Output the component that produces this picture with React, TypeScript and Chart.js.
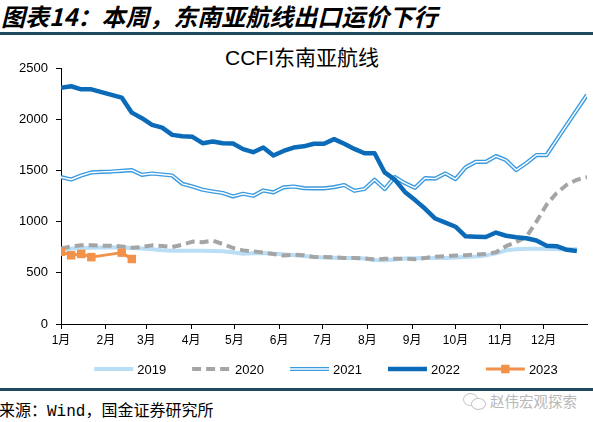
import React, { useEffect, useRef } from "react";
import { Chart, registerables } from "chart.js";

Chart.register(...registerables);

const monthLabels = ["1月", "2月", "3月", "4月", "5月", "6月", "7月", "8月", "9月", "10月", "11月", "12月"];
const monthStartDays = [0, 31, 59, 90, 120, 151, 181, 212, 243, 273, 304, 334];
const yTickValues = [0, 500, 1000, 1500, 2000, 2500];
const seriesNames = ["2019", "2020", "2021", "2022", "2023"];

const series2019 = [725, 735, 743, 745, 748, 750, 748, 743, 738, 730, 720, 716, 716, 716, 716, 714, 710, 700, 685, 690, 694, 686, 680, 672, 665, 655, 650, 648, 645, 645, 640, 625, 622, 630, 640, 642, 645, 645, 645, 650, 655, 660, 670, 690, 720, 730, 735, 736, 736, 730, 728, 732];
const series2020 = [736, 758, 768, 768, 765, 765, 758, 745, 752, 768, 762, 752, 775, 805, 799, 814, 781, 743, 719, 710, 697, 684, 668, 677, 671, 655, 655, 650, 645, 645, 640, 629, 638, 638, 638, 632, 645, 657, 661, 668, 672, 677, 684, 700, 760, 800, 850, 1000, 1165, 1279, 1360, 1408, 1435];
const series2021 = [1435, 1411, 1450, 1480, 1486, 1489, 1496, 1503, 1457, 1470, 1460, 1450, 1369, 1343, 1311, 1294, 1279, 1246, 1272, 1252, 1304, 1285, 1334, 1343, 1327, 1324, 1324, 1337, 1357, 1301, 1318, 1408, 1318, 1435, 1375, 1330, 1425, 1420, 1470, 1415, 1530, 1584, 1584, 1640, 1600, 1503, 1571, 1650, 1650, 1798, 1945, 2091, 2237];
const series2022 = [2308, 2322, 2292, 2292, 2265, 2237, 2211, 2064, 2010, 1945, 1918, 1847, 1834, 1828, 1766, 1782, 1766, 1762, 1708, 1678, 1723, 1646, 1690, 1723, 1735, 1760, 1760, 1805, 1760, 1710, 1668, 1668, 1480, 1410, 1290, 1210, 1125, 1030, 990, 950, 856, 852, 850, 893, 862, 848, 838, 815, 765, 760, 725, 712];
const series2023 = [705, 671, 684, 653, null, null, 697, 635];

const DAYS_PER_WEEK = 7;
const toPoints = (arr: (number | null)[]) => arr.map((v, i) => ({ x: i * DAYS_PER_WEEK, y: v }));

const CANVAS_TOP = 36;
const CANVAS_W = 593;
const CANVAS_H = 352;
const LEGEND_Y = 333;

const doubleLinePlugin = {
  id: "doubleLine",
  afterDatasetDraw(chart: any, args: any) {
    const ds = chart.data.datasets[args.index];
    if (!ds.doubleLine) return;
    const pts = args.meta.data;
    const ctx = chart.ctx;
    ctx.save();
    ctx.beginPath();
    pts.forEach((p: any, i: number) => {
      if (i === 0) ctx.moveTo(p.x, p.y);
      else ctx.lineTo(p.x, p.y);
    });
    ctx.strokeStyle = "#ffffff";
    ctx.lineWidth = 1.4;
    ctx.lineJoin = "round";
    ctx.stroke();
    ctx.restore();
  },
};

const customLegendPlugin = {
  id: "customLegend",
  afterDraw(chart: any) {
    const ctx = chart.ctx;
    const area = chart.chartArea;
    const sample = 39;
    const gap = 4;
    const spacing = 26;
    ctx.save();
    ctx.font = "13px 'Liberation Sans', Arial, sans-serif";
    const items = chart.data.datasets.map((ds: any) => ({ ds, w: ctx.measureText(ds.label).width }));
    const total = items.reduce((s: number, it: any) => s + sample + gap + it.w, 0) + spacing * (items.length - 1);
    let x = (area.left + area.right) / 2 - total / 2 + 2;
    const y = LEGEND_Y;
    items.forEach((it: any) => {
      const ds = it.ds;
      ctx.beginPath();
      ctx.setLineDash(ds.borderDash || []);
      ctx.lineCap = "butt";
      ctx.strokeStyle = ds.borderColor;
      ctx.lineWidth = ds.borderWidth;
      ctx.moveTo(x, y);
      ctx.lineTo(x + sample, y);
      ctx.stroke();
      ctx.setLineDash([]);
      if (ds.doubleLine) {
        ctx.beginPath();
        ctx.strokeStyle = "#ffffff";
        ctx.lineWidth = 1.4;
        ctx.moveTo(x, y);
        ctx.lineTo(x + sample, y);
        ctx.stroke();
      }
      if (ds.pointStyle === "rect") {
        ctx.fillStyle = ds.borderColor;
        const s = 8.5;
        ctx.fillRect(x + sample / 2 - s / 2, y - s / 2, s, s);
      }
      ctx.fillStyle = "#000000";
      ctx.textBaseline = "middle";
      ctx.textAlign = "left";
      ctx.fillText(ds.label, x + sample + gap, y + 1);
      x += sample + gap + it.w + spacing;
    });
    ctx.restore();
  },
};

export default function App() {
  const canvasRef = useRef<HTMLCanvasElement | null>(null);

  useEffect(() => {
    if (!canvasRef.current) return;
    const chart = new Chart(canvasRef.current, {
      type: "line",
      data: {
        datasets: [
          {
            label: seriesNames[0],
            data: toPoints(series2019),
            borderColor: "#b9def5",
            borderWidth: 4,
            pointRadius: 0,
            order: 5,
          },
          {
            label: seriesNames[1],
            data: toPoints(series2020),
            borderColor: "#a5a5a5",
            borderWidth: 4,
            borderDash: [9, 5],
            pointRadius: 0,
            order: 4,
          },
          {
            label: seriesNames[2],
            data: toPoints(series2021),
            borderColor: "#3b9be0",
            borderWidth: 4.2,
            pointRadius: 0,
            doubleLine: true,
            order: 3,
          } as any,
          {
            label: seriesNames[3],
            data: toPoints(series2022),
            borderColor: "#0b6bb8",
            borderWidth: 4.5,
            pointRadius: 0,
            order: 2,
          },
          {
            label: seriesNames[4],
            data: toPoints(series2023),
            borderColor: "#f2924a",
            backgroundColor: "#f2924a",
            borderWidth: 3,
            pointStyle: "rect",
            pointRadius: 6,
            pointBackgroundColor: "#f2924a",
            pointBorderWidth: 0,
            spanGaps: true,
            order: 1,
          },
        ],
      },
      options: {
        responsive: false,
        animation: false,
        events: [],
        layout: { padding: { top: 32, right: 6, bottom: 40, left: 0 } },
        elements: { line: { tension: 0, borderJoinStyle: "round" as any } },
        plugins: {
          legend: { display: false },
          title: { display: false },
          tooltip: { enabled: false },
        },
        scales: {
          x: {
            type: "linear",
            min: 0,
            max: 364,
            afterFit: (scale: any) => {
              scale.height = 24;
            },
            afterBuildTicks: (scale: any) => {
              scale.ticks = monthStartDays.map((d) => ({ value: d }));
            },
            ticks: {
              autoSkip: false,
              maxRotation: 0,
              padding: 4,
              color: "#000000",
              font: { family: "'Liberation Sans', 'Noto Sans CJK SC', sans-serif", size: 12 },
              callback: (_v: any, i: number) => monthLabels[i],
            },
            grid: { drawOnChartArea: false, drawTicks: true, tickLength: 5, tickColor: "#000000" },
            border: { display: true, color: "#000000", width: 1 },
          },
          y: {
            type: "linear",
            min: 0,
            max: 2500,
            afterFit: (scale: any) => {
              scale.width = 61;
            },
            afterBuildTicks: (scale: any) => {
              scale.ticks = yTickValues.map((v) => ({ value: v }));
            },
            ticks: {
              padding: 8,
              color: "#000000",
              font: { family: "'Liberation Sans', Arial, sans-serif", size: 13 },
              callback: (v: any) => String(v),
            },
            grid: { drawOnChartArea: false, drawTicks: true, tickLength: 5, tickColor: "#000000" },
            border: { display: true, color: "#000000", width: 1 },
          },
        },
      },
      plugins: [doubleLinePlugin, customLegendPlugin],
    });
    return () => chart.destroy();
  }, []);

  return (
    <div
      style={{
        position: "absolute",
        left: 0,
        top: 0,
        width: 593,
        height: 422,
        background: "#ffffff",
        overflow: "hidden",
        fontFamily: "'Noto Sans CJK SC', sans-serif",
      }}
    >
      <div
        style={{
          position: "absolute",
          left: 1,
          top: 1,
          fontSize: 24,
          fontWeight: 700,
          fontStyle: "italic",
          lineHeight: "29px",
          color: "#000",
          whiteSpace: "nowrap",
        }}
      >
        图表14：本周，东南亚航线出口运价下行
      </div>
      <div style={{ position: "absolute", left: 0, top: 32, width: 593, height: 2.5, background: "#1e4a60" }} />
      <div
        style={{
          position: "absolute",
          left: 302,
          top: 46,
          transform: "translateX(-50%)",
          fontSize: 21,
          lineHeight: "24px",
          whiteSpace: "nowrap",
          color: "#000",
          fontFamily: "'Liberation Sans', 'Noto Sans CJK SC', sans-serif",
        }}
      >
        CCFI东南亚航线
      </div>
      <canvas
        ref={canvasRef}
        width={CANVAS_W}
        height={CANVAS_H}
        style={{ position: "absolute", left: 0, top: CANVAS_TOP, width: CANVAS_W, height: CANVAS_H }}
      />
      <div style={{ position: "absolute", left: 0, top: 388, width: 593, height: 2.5, background: "#1e4a60" }} />
      <div
        style={{
          position: "absolute",
          left: -1,
          top: 399,
          fontSize: 16,
          lineHeight: "20px",
          color: "#000",
          whiteSpace: "nowrap",
          fontFamily: "'Noto Sans CJK SC', 'DejaVu Sans Mono', monospace",
        }}
      >
        来源：<span style={{ fontFamily: "'Liberation Mono', monospace" }}>Wind</span>，国金证券研究所
      </div>
      <div
        style={{
          position: "absolute",
          left: 463,
          top: 391,
          display: "flex",
          alignItems: "center",
          color: "#b8b8b8",
          fontSize: 14.5,
          lineHeight: "20px",
          whiteSpace: "nowrap",
        }}
      >
        <span style={{ position: "relative", width: 24, height: 18, display: "inline-block", marginRight: 3 }}>
          <span style={{ position: "absolute", left: 0, top: 1, width: 13, height: 11, border: "1.5px solid #c4c4c4", borderRadius: "50%" }} />
          <span style={{ position: "absolute", left: 8, top: 6, width: 13, height: 10, border: "1.5px solid #c4c4c4", borderRadius: "50%", background: "#fff" }} />
        </span>
        赵伟宏观探索
      </div>
    </div>
  );
}
